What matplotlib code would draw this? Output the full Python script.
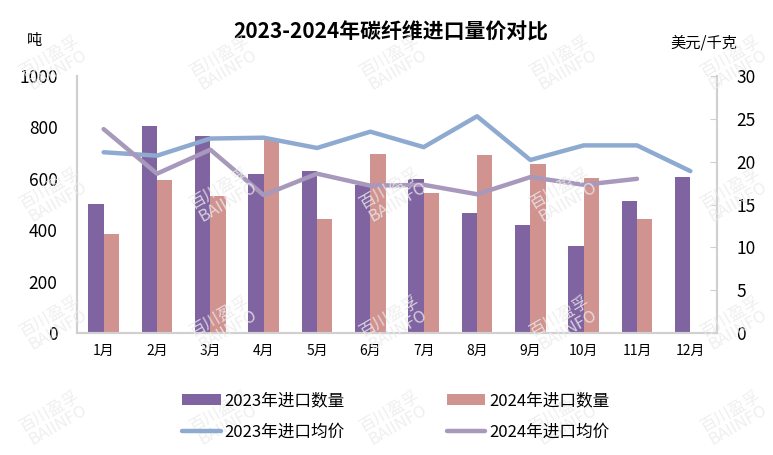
import matplotlib.pyplot as plt
import numpy as np

plt.rcParams['font.family'] = ['Noto Sans CJK SC', 'DejaVu Sans']

# data
months = ['1月', '2月', '3月', '4月', '5月', '6月', '7月', '8月', '9月', '10月', '11月', '12月']
qty_2023 = [502, 805, 765, 619, 630, 575, 599, 467, 420, 339, 514, 607]
qty_2024 = [385, 595, 533, 755, 444, 697, 545, 693, 658, 603, 444]
price_2023 = [21.1, 20.7, 22.7, 22.8, 21.6, 23.5, 21.7, 25.3, 20.2, 21.9, 21.9, 18.9]
price_2024 = [23.8, 18.6, 21.4, 16.1, 18.6, 17.2, 17.3, 16.2, 18.2, 17.3, 18.0]

c_bar23 = '#8064a2'
c_bar24 = '#d09390'
c_line23 = '#8eaad0'
c_line24 = '#a898bb'
grey = '#d0d0d0'

fig = plt.figure(figsize=(7.73, 4.55), dpi=100)
ax = fig.add_axes([0.0996, 0.268, 0.828, 0.565])
ax2 = ax.twinx()

x = np.arange(len(months))
w = 0.29
ax.bar(x - w / 2, qty_2023, w, color=c_bar23, label='2023年进口数量', zorder=2)
ax.bar(x[:len(qty_2024)] + w / 2, qty_2024, w, color=c_bar24, label='2024年进口数量', zorder=2)
ax2.plot(x, price_2023, color=c_line23, lw=3.2, label='2023年进口均价', solid_capstyle='round')
ax2.plot(x[:len(price_2024)], price_2024, color=c_line24, lw=3.2, label='2024年进口均价',
         solid_capstyle='round')

ax.set_xlim(-0.5, 11.5)
ax.set_ylim(0, 1000)
ax2.set_ylim(0, 30)
ax.set_yticks(range(0, 1001, 200))
ax2.set_yticks(range(0, 31, 5))
ax.set_xticks(x)
ax.set_xticklabels(months, fontsize=10)
ax.tick_params(axis='x', length=0, pad=8)
ax.tick_params(axis='y', length=0, pad=14, labelsize=12.5)
ax2.tick_params(axis='y', direction='in', length=5, color=grey, pad=14, labelsize=12.5)

for a in (ax, ax2):
    a.spines['top'].set_visible(False)
    for s in ('left', 'right', 'bottom'):
        a.spines[s].set_color(grey)
        a.spines[s].set_linewidth(1.5)

# faint watermarks over the whole picture
for wx in [0.07, 0.29, 0.51, 0.73, 0.95]:
    for wy in [0.86, 0.57, 0.29, 0.08]:
        fig.text(wx, wy, '百川盈孚\nBAIINFO', color='#ebebeb', alpha=0.8, fontsize=12,
                 rotation=30, ha='center', va='center', linespacing=0.9, zorder=5)

fig.text(0.505, 0.93, '2023-2024年碳纤维进口量价对比', ha='center', va='center',
         fontsize=15, fontweight='bold')
fig.text(0.045, 0.91, '吨', ha='center', va='center', fontsize=11)
fig.text(0.91, 0.905, '美元/千克', ha='center', va='center', fontsize=11)

h1, l1 = ax.get_legend_handles_labels()
h2, l2 = ax2.get_legend_handles_labels()
handles = [h1[0], h2[0], h1[1], h2[1]]
labels = [l1[0], l2[0], l1[1], l2[1]]
fig.legend(handles, labels, ncol=2, loc='center', bbox_to_anchor=(0.512, 0.085),
           frameon=False, fontsize=12, columnspacing=6.1, handlelength=2.3,
           handletextpad=0.25, labelspacing=0.85)

fig.savefig('out.png', dpi=100)
